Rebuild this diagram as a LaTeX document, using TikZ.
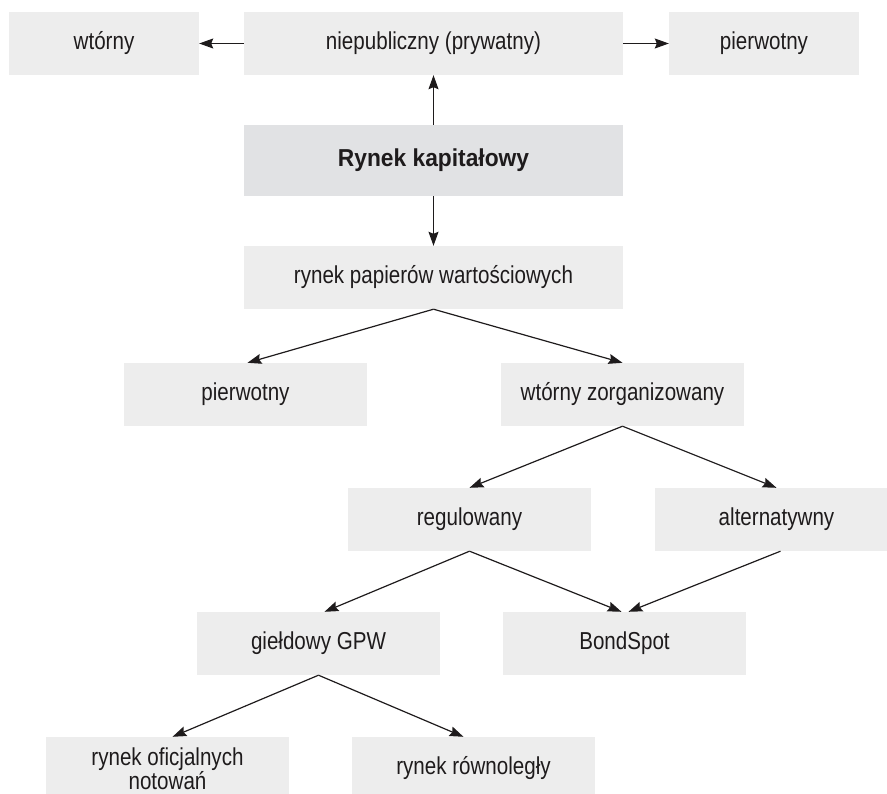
\documentclass[tikz,border=0pt]{standalone}
\usepackage{fontspec}
\setmainfont[FakeStretch=0.84,BoldFeatures={FakeStretch=0.93}]{Liberation Sans}
\usetikzlibrary{arrows.meta}
\definecolor{boxgray}{HTML}{EDEDED}
\definecolor{maingray}{HTML}{E1E2E4}
\definecolor{ink}{HTML}{1E1B1C}
\begin{document}
\begin{tikzpicture}[x=1pt,y=-1pt,
  box/.style={fill=boxgray, draw=none, inner sep=0pt, minimum height=63pt,
    minimum width=243pt, text=ink, align=center,
    font=\fontsize{24.5}{24.5}\selectfont},
  conn/.style={draw=ink, line width=1.2pt,
    -{Stealth[length=14pt,width=10pt,inset=2pt]}}]
\useasboundingbox (0,0) rectangle (887,794);
% top row
\node[box, minimum width=190pt] (wt1) at (104,43.5) {wtórny};
\node[box, minimum width=379pt] (niep) at (433.5,43.5) {niepubliczny (prywatny)};
\node[box, minimum width=190pt] (pw1) at (764,43.5) {pierwotny};
% main
\node[box, fill=maingray, minimum width=379pt, minimum height=71pt] (rk) at (433.5,160.5) {\textbf{Rynek kapitałowy}};
\node[box, minimum width=379pt] (rp) at (433.5,277.5) {rynek papierów wartościowych};
\node[box] (pw2) at (245.5,394.5) {pierwotny};
\node[box] (wz) at (622.5,394.5) {wtórny zorganizowany};
\node[box] (reg) at (469.5,519.5) {regulowany};
\node[box] (alt) at (776.5,519.5) {alternatywny};
\node[box] (gpw) at (318.5,643.5) {giełdowy GPW};
\node[box] (bs) at (624.5,643.5) {BondSpot};
\node[box] (rof) at (167.5,768.5) {rynek oficjalnych\\notowań};
\node[box] (rr) at (473.5,768.5) {rynek równoległy};
% connectors
\draw[conn] (niep.west) -- (wt1.east);
\draw[conn] (niep.east) -- (pw1.west);
\draw[conn] (rk.north) -- (niep.south);
\draw[conn] (rk.south) -- (rp.north);
\draw[conn] (rp.south) -- ([xshift=2pt]pw2.north);
\draw[conn] (rp.south) -- (wz.north);
\draw[conn] (wz.south) -- (reg.north);
\draw[conn] (wz.south) -- (alt.north);
\draw[conn] (reg.south) -- ([xshift=6pt]gpw.north);
\draw[conn] (reg.south) -- ([xshift=-3pt]bs.north);
\draw[conn] ([xshift=4pt]alt.south) -- ([xshift=4pt]bs.north);
\draw[conn] (gpw.south) -- ([xshift=5pt]rof.north);
\draw[conn] (gpw.south) -- ([xshift=-10pt]rr.north);
\end{tikzpicture}
\end{document}
